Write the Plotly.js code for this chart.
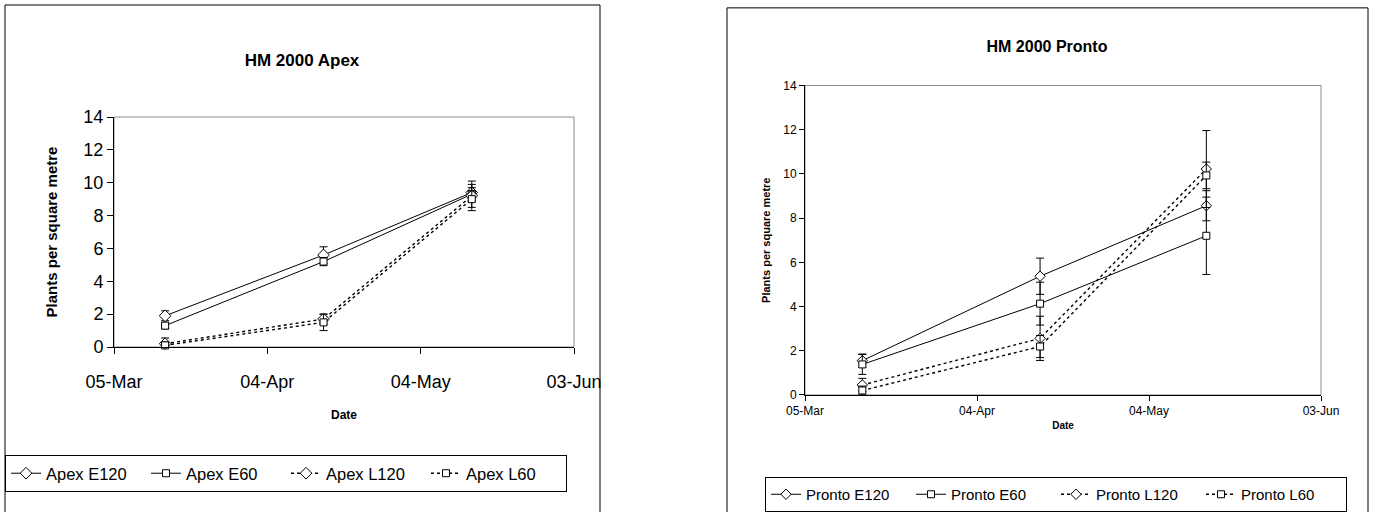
<!DOCTYPE html>
<html>
<head>
<meta charset="utf-8">
<script src="https://cdn.plot.ly/plotly-3.0.1.min.js"></script>
<style>
  html, body { margin: 0; padding: 0; background: #ffffff; overflow: hidden; }
  #apex { position: absolute; left: 0; top: 0; width: 690px; height: 512px; }
  #pronto { position: absolute; left: 690px; top: 0; width: 690px; height: 512px; }
</style>
</head>
<body>
<div id="apex"></div>
<div id="pronto"></div>
<script>
// Sampling dates (year 2000)
const sampleDates = ['2000-03-15', '2000-04-15', '2000-05-14'];

// Date axis ticks
const tickDates = ['2000-03-05', '2000-04-04', '2000-05-04', '2000-06-03'];
const tickLabels = ['05-Mar', '04-Apr', '04-May', '03-Jun'];

// HM 2000 Apex: plants per square metre and standard errors
const apexE120 = [1.9, 5.6, 9.4];
const apexE120Err = [0.3, 0.5, 0.5];
const apexE60 = [1.3, 5.2, 9.3];
const apexE60Err = [0.2, 0.25, 0.4];
const apexL120 = [0.2, 1.7, 9.2];
const apexL120Err = [0.35, 0.3, 0.9];
const apexL60 = [0.1, 1.5, 9.0];
const apexL60Err = [0.2, 0.5, 0.5];

// HM 2000 Pronto: plants per square metre and standard errors
const prontoE120 = [1.55, 5.37, 8.56];
const prontoE120Err = [0.3, 0.82, 0.68];
const prontoE60 = [1.38, 4.13, 7.2];
const prontoE60Err = [0.45, 0.97, 1.75];
const prontoL120 = [0.45, 2.56, 10.22];
const prontoL120Err = [0.3, 1.0, 1.74];
const prontoL60 = [0.2, 2.19, 9.93];
const prontoL60Err = [0.2, 0.5, 0.6];

const FONT = 'Liberation Sans, Arial, Helvetica, sans-serif';
const W = 690, H = 512;

function series(name, y, err, symbol, dashed, msize) {
  return {
    type: 'scatter', mode: 'lines+markers', name: name,
    x: sampleDates, y: y,
    cliponaxis: false,
    line: { color: '#000000', width: dashed ? 1.4 : 1, dash: dashed ? 'dot' : 'solid' },
    marker: { symbol: symbol, size: msize, color: '#ffffff', line: { color: '#000000', width: 1 } },
    error_y: { type: 'data', array: err, visible: true, color: '#000000', thickness: 1, width: 4 }
  };
}

function chartLayout(o) {
  return {
    width: W, height: H,
    margin: { l: 0, r: 0, t: 0, b: 0 },
    paper_bgcolor: '#ffffff', plot_bgcolor: '#ffffff',
    font: { family: FONT, color: '#000000' },
    title: {
      text: o.title, x: o.titleX / W, xanchor: 'center', xref: 'paper',
      y: 1 - o.titleY / H, yanchor: 'middle', yref: 'paper',
      font: { family: FONT, size: o.titleSize, weight: 'bold', color: '#000000' }
    },
    showlegend: true,
    legend: {
      orientation: 'h', x: o.legX / W, xanchor: 'left', y: 1 - o.legY / H, yanchor: 'top',
      xref: 'paper', yref: 'paper',
      entrywidth: o.legEntry, entrywidthmode: 'pixels',
      bgcolor: '#ffffff', bordercolor: '#000000', borderwidth: 1,
      font: { family: FONT, size: o.legSize, color: '#000000' },
      itemclick: false, itemdoubleclick: false
    },
    xaxis: {
      type: 'date', range: [tickDates[0], tickDates[3]],
      domain: [o.plotL / W, o.plotR / W],
      tickmode: 'array', tickvals: tickDates, ticktext: tickLabels,
      ticks: 'outside', ticklen: o.tickLen, tickcolor: '#000000', tickwidth: 1,
      ticklabelstandoff: o.xLabelStandoff,
      showline: true, linecolor: '#000000', linewidth: 1,
      showgrid: false, zeroline: false, automargin: false, fixedrange: true,
      tickfont: { family: FONT, size: o.tickSize, color: '#000000' },
      title: { text: 'Date', standoff: o.xTitleStandoff,
               font: { family: FONT, size: o.xTitleSize, weight: 'bold', color: '#000000' } }
    },
    yaxis: {
      range: [0, 14], dtick: 2,
      domain: [1 - o.plotB / H, 1 - o.plotT / H],
      ticks: 'outside', ticklen: o.tickLen, tickcolor: '#000000', tickwidth: 1,
      showline: true, linecolor: '#000000', linewidth: 1,
      showgrid: false, zeroline: false, automargin: false, fixedrange: true,
      tickfont: { family: FONT, size: o.tickSize, color: '#000000' },
      title: { text: 'Plants per square metre', standoff: o.yTitleStandoff,
               font: { family: FONT, size: o.yTitleSize, weight: 'bold', color: '#000000' } }
    },
    shapes: [
      // chart area border
      { type: 'rect', xref: 'paper', yref: 'paper',
        x0: o.boxL / W, x1: o.boxR / W, y0: -0.05, y1: 1 - o.boxT / H,
        line: { color: '#000000', width: 1 }, fillcolor: 'rgba(0,0,0,0)', layer: 'below' },
      // plot area border
      { type: 'rect', xref: 'x domain', yref: 'y domain', x0: 0, x1: 1, y0: 0, y1: 1,
        line: { color: '#8c8c8c', width: 1 }, fillcolor: 'rgba(0,0,0,0)', layer: 'below' }
    ]
  };
}

const apexTraces = [
  series('Apex E120', apexE120, apexE120Err, 'diamond', false, 9),
  series('Apex E60', apexE60, apexE60Err, 'square', false, 7),
  series('Apex L120', apexL120, apexL120Err, 'diamond', true, 9),
  series('Apex L60', apexL60, apexL60Err, 'square', true, 7)
];

const prontoTraces = [
  series('Pronto E120', prontoE120, prontoE120Err, 'diamond', false, 8),
  series('Pronto E60', prontoE60, prontoE60Err, 'square', false, 7),
  series('Pronto L120', prontoL120, prontoL120Err, 'diamond', true, 8),
  series('Pronto L60', prontoL60, prontoL60Err, 'square', true, 7)
];

const config = { staticPlot: true, displayModeBar: false };

Plotly.newPlot('apex', apexTraces, chartLayout({
  title: 'HM 2000 Apex', titleX: 302, titleY: 60, titleSize: 17,
  boxL: 5, boxR: 600, boxT: 5,
  plotL: 114, plotR: 574, plotT: 117, plotB: 347,
  tickSize: 18, tickLen: 6, xLabelStandoff: 12,
  xTitleSize: 12, xTitleStandoff: 20,
  yTitleSize: 15, yTitleStandoff: 22,
  legX: 5, legY: 455, legSize: 16.5, legEntry: 95
}), config);

Plotly.newPlot('pronto', prontoTraces, chartLayout({
  title: 'HM 2000 Pronto', titleX: 357, titleY: 47, titleSize: 16,
  boxL: 37, boxR: 678, boxT: 8,
  plotL: 115, plotR: 631, plotT: 87, plotB: 402,
  tickSize: 12, tickLen: 5, xLabelStandoff: 0,
  xTitleSize: 10, xTitleStandoff: 4,
  yTitleSize: 11, yTitleStandoff: 10,
  legX: 75, legY: 486, legSize: 15, legEntry: 100
}), config);
</script>
</body>
</html>
